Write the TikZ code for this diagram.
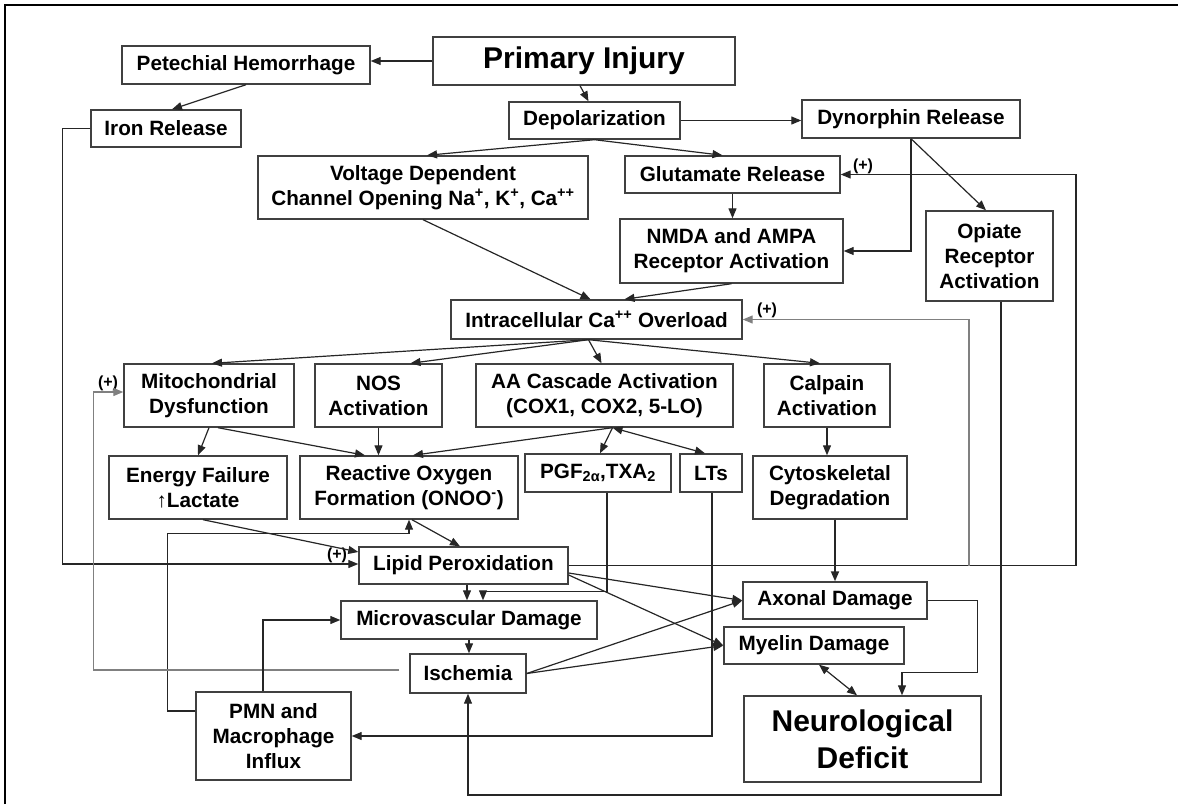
\documentclass[tikz,border=0pt]{standalone}
\usepackage{fontspec}
\setmainfont{Liberation Sans}
\usepackage{tikz}
\usetikzlibrary{arrows.meta}
\newcommand\boxfont{\fontsize{20.7}{25}\selectfont\bfseries}
\newcommand\bigboxfont{\fontsize{30}{37}\selectfont\bfseries}
\newcommand\plusfont{\fontsize{16}{18}\selectfont\bfseries}

\begin{document}
\begin{tikzpicture}[x=1pt,y=-1pt,
  box/.style n args={2}{draw=black!75,line width=1.4pt,minimum width=#1pt,minimum height=#2pt,inner sep=0pt,align=center,font=\boxfont},
  link/.style={draw=black!85,line width=1.2pt,-{Triangle[length=10pt,width=8pt]}},
  twoway/.style={link,{Triangle[length=10pt,width=8pt]}-{Triangle[length=10pt,width=8pt]}},
  faint/.style={draw=black!50},
  plus/.style={font=\plusfont,inner sep=0pt}]
\useasboundingbox (0,0) rectangle (1178,804);
\draw[line width=2pt] (5,804) -- (5,5) -- (1178,5);

\node[box={302}{48},font=\bigboxfont] (prim) at (584,61) {Primary Injury};
\node[box={248}{38}] (pete) at (246,65) {Petechial Hemorrhage};
\node[box={150}{37}] (iron) at (166,128.5) {Iron Release};
\node[box={171}{37}] (depol) at (594.5,120.5) {Depolarization};
\node[box={218}{38}] (dyn) at (911,119) {Dynorphin Release};
\node[box={330}{63}] (volt) at (423,187.5) {Voltage Dependent\\Channel Opening Na\textsuperscript{+}, K\textsuperscript{+}, Ca\textsuperscript{++}};
\node[box={215}{37}] (glut) at (732.5,174.5) {Glutamate Release};
\node[box={223}{64}] (nmda) at (731.5,251) {NMDA and AMPA\\Receptor Activation};
\node[box={127}{90}] (opi) at (989.5,256) {Opiate\\Receptor\\Activation};
\node[box={291}{39}] (intra) at (596.5,319.5) {Intracellular Ca\textsuperscript{++} Overload};
\node[box={170}{63}] (mito) at (209,395.5) {Mitochondrial\\Dysfunction};
\node[box={127}{63}] (nos) at (378.5,395.5) {NOS\\Activation};
\node[box={257}{63}] (aa) at (604.5,395.5) {AA Cascade Activation\\(COX1, COX2, 5-LO)};
\node[box={126}{63}] (calp) at (827,395.5) {Calpain\\Activation};
\node[box={178}{63}] (energy) at (198,487.5) {Energy Failure\\↑Lactate};
\node[box={218}{63}] (ros) at (409,487.5) {Reactive Oxygen\\Formation (ONOO\textsuperscript{-})};
\node[box={146}{38}] (pgf) at (598,473) {PGF\textsubscript{2α},TXA\textsubscript{2}};
\node[box={62}{38}] (lts) at (711,473) {LTs};
\node[box={154}{63}] (cyto) at (830,487.5) {Cytoskeletal\\Degradation};
\node[box={209}{37}] (lipid) at (463.5,565.5) {Lipid Peroxidation};
\node[box={256}{38}] (micro) at (469,620) {Microvascular Damage};
\node[box={116}{39}] (isch) at (468,673.5) {Ischemia};
\node[box={155}{88}] (pmn) at (273.5,736) {PMN and\\Macrophage\\Influx};
\node[box={184}{37}] (axon) at (835,600.5) {Axonal Damage};
\node[box={180}{37}] (myel) at (814,645.5) {Myelin Damage};
\node[box={237}{86},font=\bigboxfont] (neuro) at (862.5,739) {Neurological\\Deficit};

\node[plus] (plusglut) at (863,166) {(+)};
\node[plus] (plusintra) at (767,310) {(+)};
\node[plus] (plusmito) at (108,383) {(+)};
\node[plus] (pluslipid) at (337,555) {(+)};

\draw[link] (prim.west) -- (prim.west -| pete.east);
\draw[link] (pete.south) -- ([xshift=6]iron.north);
\draw[link] ([xshift=-4]prim.south) -- ([xshift=-6]depol.north);
\draw[link] (depol.east) -- (depol.east -| dyn.west);
\draw[link] (depol.south) -- ([xshift=4]volt.north);
\draw[link] (depol.south) -- ([xshift=-10]glut.north);
\draw[link] (dyn.south) -- ([xshift=-3.5]opi.north);
\draw[link] (dyn.south) |- (nmda.east);
\draw[link] (glut.south) -- (glut.south |- nmda.north);
\draw[link] (volt.south) -- ([xshift=-6]intra.north);
\draw[link] (nmda.south) -- ([xshift=28]intra.north);

\coordinate (fbr) at (1076,565.5);
\coordinate (fbm) at (969,565.5);
\draw[link] (lipid.east) -- (fbr) |- (glut.east);
\draw[link,faint] (fbm) |- (intra.east);
\coordinate (botr) at (1001,795);
\draw[link] ([xshift=11.5]opi.south) -- (botr) -| (isch.south);

\foreach \n/\d in {mito/3,nos/32,aa/-3,calp/-7}
  \draw[link] ([xshift=-8]intra.south) -- ([xshift=\d]\n.north);

\draw[link] ([xshift=8]aa.south) -- ([xshift=4]ros.north);
\draw[link] ([xshift=8]aa.south) -- ([xshift=2]pgf.north);
\draw[twoway] ([xshift=8]aa.south) -- ([xshift=-6]lts.north);
\draw[link] (mito.south) -- (energy.north);
\draw[link] ([xshift=9]mito.south) -- ([xshift=-44]ros.north);
\draw[link] (nos.south) -- (nos.south |- ros.north);
\draw[link] (calp.south) -- (calp.south |- cyto.north);
\draw[link,line width=1.8pt] ([xshift=5]cyto.south) -- ([xshift=5]cyto.south |- axon.north);

\draw[link] ([xshift=5]energy.south) -- ([yshift=13.5]lipid.west);
\draw[link] (iron.west) -- ++(-28,0) |- ([yshift=1.5]lipid.west);
\draw[link] ([xshift=3]ros.south) -- ([xshift=-3.5]lipid.north);
\draw[link] ([yshift=25]pmn.west) -- ++(-28,0) |- ([yshift=-14]ros.south) -- (ros.south);
\draw[link] ([xshift=3.5]lipid.south) -- ([xshift=3.5]lipid.south |- micro.north);
\draw[link] ([xshift=9]pgf.south) |- ([xshift=14,yshift=9]micro.north) -- ([xshift=14]micro.north);
\draw[link] ([xshift=1]lts.south) |- (pmn.east);
\draw[link] ([yshift=-7.5]lipid.east) -- (axon.west);
\draw[link] ([yshift=-9.5]lipid.east) -- (myel.west);
\draw[link] (micro.south) -- (micro.south |- isch.north);
\draw[link] (isch.east) -- (axon.west);
\draw[link] (isch.east) -- (myel.west);
\draw[link,faint] ([xshift=-10,yshift=3.5]isch.west) -| ([xshift=-30,yshift=3.5]mito.west) -- ([yshift=3.5]mito.west);
\draw[link] ([xshift=-10.5]pmn.north) |- (micro.west);
\draw[link] (axon.east) -- ++(50,0) |- ([xshift=39.5,yshift=23]neuro.north) -- ([xshift=39.5]neuro.north);
\draw[twoway] ([xshift=5]myel.south) -- ([xshift=-5.5]neuro.north);

\end{tikzpicture}
\end{document}
